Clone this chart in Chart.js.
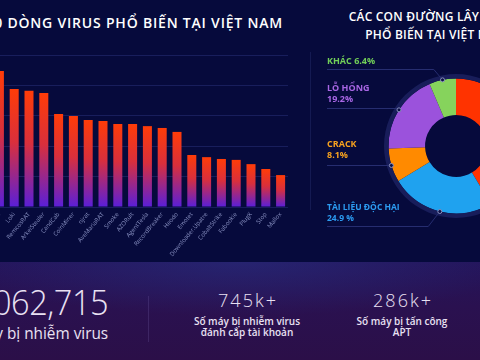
<!DOCTYPE html>
<html lang="vi">
<head>
  <meta charset="UTF-8" />
  <title>Virus phổ biến tại Việt Nam</title>
  <script src="https://cdn.jsdelivr.net/npm/chart.js"></script>
  <style>
    body {
      margin: 0;
      width: 480px;
      height: 360px;
      overflow: hidden;
      position: relative;
      background: #060a3c;
      font-family: 'Open Sans', sans-serif;
      color: #ffffff;
    }
    canvas { position: absolute; }
    #barChart { left: -8px; top: 40px; }
    #pieChart { left: 310px; top: 40px; }
    .title-left {
      position: absolute;
      right: 197px;
      top: 13px;
      white-space: nowrap;
      font-size: 14px;
      font-weight: 600;
      letter-spacing: 0.8px;
    }
    .title-right {
      position: absolute;
      left: 286px;
      width: 300px;
      top: 8px;
      text-align: center;
      font-size: 12px;
      font-weight: 600;
      line-height: 18px;
      letter-spacing: 0.2px;
      white-space: nowrap;
    }
    .divider {
      position: absolute;
      left: 310px;
      top: 52px;
      width: 1px;
      height: 158px;
      background: #141a52;
    }
    .callout {
      position: absolute;
      left: 327px;
      font-size: 9px;
      font-weight: 700;
      line-height: 11px;
      white-space: nowrap;
    }
    .band {
      position: absolute;
      left: 0;
      top: 262px;
      width: 480px;
      height: 98px;
      background:
        radial-gradient(ellipse 60% 55% at 50% 0%, rgba(40, 48, 130, 0.55), rgba(40, 48, 130, 0) 100%),
        linear-gradient(180deg, #24145a 0%, #2a1150 45%, #2b0f48 100%);
    }
    .stat { position: absolute; text-align: center; white-space: nowrap; color: #e9e1f3; }
    .stat .num { font-weight: 300; }
    .stat .lbl { font-weight: 600; }
    .vline {
      position: absolute;
      left: 148px;
      top: 296px;
      width: 1px;
      height: 46px;
      background: rgba(120, 100, 170, 0.25);
    }
  </style>
</head>
<body>
  <div class="band"></div>
  <div class="vline"></div>
  <div class="title-left">TOP 20 DÒNG VIRUS PHỔ BIẾN TẠI VIỆT NAM</div>
  <div class="title-right">CÁC CON ĐƯỜNG LÂY NHIỄM<br>PHỔ BIẾN TẠI VIỆT NAM</div>
  <div class="divider"></div>

  <canvas id="barChart" width="296" height="230"></canvas>
  <canvas id="pieChart" width="292" height="212"></canvas>

  <div class="callout" style="top:55px;color:#72cf58">KHÁC 6.4%</div>
  <div class="callout" style="top:82px;color:#a866e4">LỖ HỔNG<br>19.2%</div>
  <div class="callout" style="top:138px;color:#f7a21e">CRACK<br>8.1%</div>
  <div class="callout" style="top:201px;color:#2c9cf2;font-size:8.5px">TÀI LIỆU ĐỘC HẠI<br>24.9 %</div>

  <div class="stat" style="right:372px;top:281px;text-align:right;transform:scaleX(0.93);transform-origin:right top">
    <div class="num" style="font-size:35px;line-height:42px;letter-spacing:-0.5px">1,062,715</div>
    <div class="lbl" style="font-size:16.5px;line-height:20px;font-weight:500">Số máy bị nhiễm virus</div>
  </div>
  <div class="stat" style="left:147px;width:200px;top:287px">
    <div class="num" style="font-size:18px;line-height:26px;letter-spacing:2px;padding-left:2px">745k+</div>
    <div class="lbl" style="font-size:10px;line-height:11px;margin-top:3px">Số máy bị nhiễm virus<br>đánh cắp tài khoản</div>
  </div>
  <div class="stat" style="left:302px;width:200px;top:287px">
    <div class="num" style="font-size:18px;line-height:26px;letter-spacing:2px;padding-left:2px">286k+</div>
    <div class="lbl" style="font-size:10px;line-height:11px;margin-top:3px">Số máy bị tấn công<br>APT</div>
  </div>

  <script>
    // top 20 virus families (first name is cut off in the source)
    const virusNames = [
      'RedLine', 'Loki', 'RemcosRAT', 'ArkeiStealer', 'CandCab', 'CoinMiner', 'njrat',
      'AveMariaRAT', 'Smoke', 'AZORult', 'AgentTesla', 'RecordBreaker', 'Heodo', 'Emotet',
      'Downloader.Upatre', 'CobaltStrike', 'Fabookie', 'PlugX', 'Stop', 'Mallox'
    ];
    const virusCounts = [447, 388, 382, 375, 306, 299, 286, 283, 273, 273, 266, 260, 247, 171, 164, 158, 155, 141, 125, 105];

    // infection routes, clockwise from 12 o'clock
    const routeNames = ['Khác (phải)', 'Tài liệu độc hại', 'Crack', 'Lỗ hổng', 'Khác'];
    const routeShares = [41.4, 24.9, 8.1, 19.2, 6.4];
    const routeColors = ['#ff3300', '#1fa2ef', '#ff8a00', '#9b52dc', '#86d35c'];

    // y of the leader line under each callout (page px), null = no callout
    const calloutLineY = [null, 226, 165, 108, 69];

    function barFill(c) {
      const ys = c.chart.scales.y;
      if (!ys || !c.parsed) return '#c42a5a';
      const top = ys.getPixelForValue(c.parsed.y);
      const base = ys.getPixelForValue(0);
      if (!Number.isFinite(top) || !Number.isFinite(base) || top === base) return '#c42a5a';
      const g = c.chart.ctx.createLinearGradient(0, top, 0, base);
      g.addColorStop(0, '#ff3c08');
      g.addColorStop(0.45, '#d92f3c');
      g.addColorStop(1, '#5a1fd8');
      return g;
    }

    new Chart(document.getElementById('barChart'), {
      type: 'bar',
      data: {
        labels: virusNames,
        datasets: [{
          data: virusCounts,
          backgroundColor: barFill,
          borderWidth: 0,
          barPercentage: 0.61,
          categoryPercentage: 1
        }]
      },
      options: {
        responsive: false,
        animation: false,
        layout: { padding: { top: 15, left: 0, right: 0, bottom: 0 } },
        plugins: { legend: { display: false }, tooltip: { enabled: false } },
        scales: {
          x: {
            grid: { display: false, drawTicks: false },
            border: { display: false },
            ticks: {
              color: '#8d95c6',
              font: { family: 'Open Sans', size: 6 },
              minRotation: 50,
              maxRotation: 50,
              padding: 4,
              autoSkip: false
            },
            afterFit: s => { s.paddingLeft = 0; s.paddingRight = 0; s.height = 63; }
          },
          y: {
            min: 0,
            max: 500,
            ticks: { display: false, stepSize: 100 },
            grid: { color: '#181e5c', drawTicks: false },
            border: { display: false },
            afterFit: s => { s.width = 0; }
          }
        }
      }
    });

    const pieGlow = {
      id: 'pieGlow',
      afterDatasetsDraw(chart) {
        const ctx = chart.ctx;
        const top = chart.canvas.offsetTop;
        const left = chart.canvas.offsetLeft;
        const arcs = chart.getDatasetMeta(1).data;
        ctx.save();
        arcs.forEach((arc, i) => {
          if (calloutLineY[i] == null) return;
          const mid = (arc.startAngle + arc.endAngle) / 2;
          const dx = arc.x + Math.cos(mid) * arc.outerRadius;
          const dy = arc.y + Math.sin(mid) * arc.outerRadius;
          const ly = calloutLineY[i] - top;
          const diff = Math.abs(ly - dy);
          const ex = diff > 2 ? dx - diff * 0.8 : dx;
          ctx.strokeStyle = '#262d70';
          ctx.lineWidth = 1;
          ctx.beginPath();
          ctx.moveTo(327 - left, ly + 0.5);
          ctx.lineTo(ex, ly + 0.5);
          ctx.lineTo(dx, dy);
          ctx.stroke();
          ctx.beginPath();
          ctx.arc(dx, dy, 2, 0, Math.PI * 2);
          ctx.fillStyle = '#0a0f44';
          ctx.fill();
          ctx.strokeStyle = '#8a90bf';
          ctx.stroke();
        });
        ctx.restore();
      }
    };

    new Chart(document.getElementById('pieChart'), {
      type: 'doughnut',
      data: {
        labels: routeNames,
        datasets: [
          { data: [1], backgroundColor: ['#181d5a'], borderWidth: 0, weight: 4.5 },
          { data: routeShares, backgroundColor: routeColors, borderWidth: 0, weight: 36.5 }
        ]
      },
      options: {
        responsive: false,
        animation: false,
        cutout: '43%',
        layout: { padding: { left: 74, right: 74, top: 34, bottom: 34 } },
        plugins: { legend: { display: false }, tooltip: { enabled: false } }
      },
      plugins: [pieGlow]
    });
  </script>
</body>
</html>
